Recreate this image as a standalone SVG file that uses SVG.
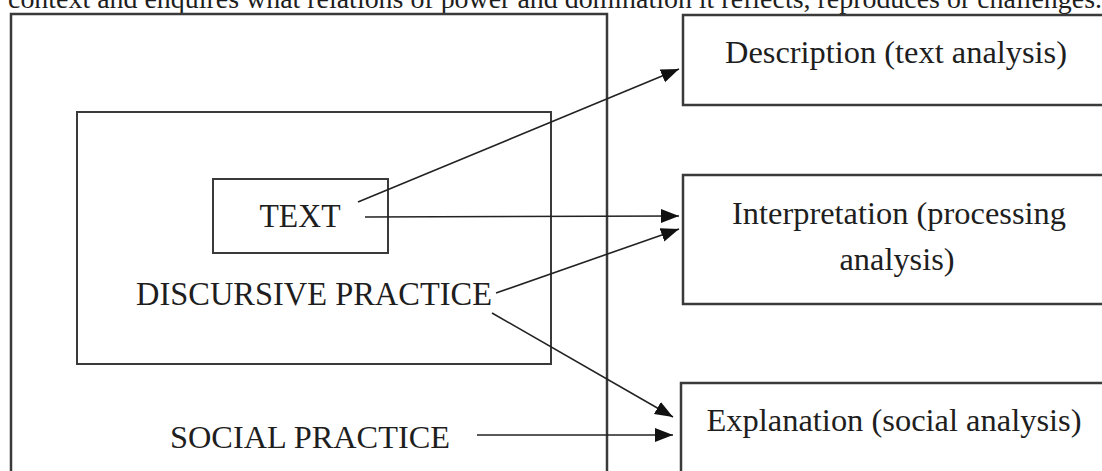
<svg xmlns="http://www.w3.org/2000/svg" width="1102" height="471" viewBox="0 0 1102 471">
<style>
.box{fill:none;stroke:#3a3a3a;stroke-width:2.5}
.ibox{fill:none;stroke:#3a3a3a;stroke-width:2}
.t{font-family:"Liberation Serif","Times New Roman",serif;fill:#1e1e1e;font-size:32px;text-anchor:middle}
.lt{font-family:"Liberation Serif","Times New Roman",serif;fill:#1e1e1e;font-size:34px;text-anchor:middle}
.c{fill:none;stroke:#222;stroke-width:1.6}
</style>
<defs>
<marker id="ah" markerUnits="userSpaceOnUse" markerWidth="20" markerHeight="16" refX="18" refY="7" orient="auto">
<path d="M0,0 L18,7 L0,14 z" fill="#111"/>
</marker>
</defs>
<rect width="1102" height="471" fill="#fff"/>
<text x="8" y="8" font-family="Liberation Serif,Times New Roman,serif" font-size="28" fill="#1e1e1e" textLength="1094" lengthAdjust="spacingAndGlyphs">context and enquires what relations of power and domination it reflects, reproduces or challenges.</text>
<g id="social">
<rect class="box" x="11" y="14" width="596" height="520"/>
<text class="t" x="310" y="448" textLength="280" lengthAdjust="spacingAndGlyphs">SOCIAL PRACTICE</text>
</g>
<g id="discursive">
<rect class="ibox" x="77" y="112" width="474" height="252"/>
<text class="lt" x="314" y="305" textLength="356" lengthAdjust="spacingAndGlyphs">DISCURSIVE PRACTICE</text>
</g>
<g id="text">
<rect class="ibox" x="213" y="179" width="175" height="74"/>
<text class="lt" x="300" y="227" textLength="81" lengthAdjust="spacingAndGlyphs">TEXT</text>
</g>
<g id="description">
<rect class="box" x="683" y="15" width="440" height="90"/>
<text class="t" x="896" y="63" textLength="342" lengthAdjust="spacingAndGlyphs">Description (text analysis)</text>
</g>
<g id="interpretation">
<rect class="box" x="683" y="175" width="440" height="129"/>
<text class="t" x="899" y="224" textLength="334" lengthAdjust="spacingAndGlyphs">Interpretation (processing</text>
<text class="t" x="897" y="270" textLength="115" lengthAdjust="spacingAndGlyphs">analysis)</text>
</g>
<g id="explanation">
<rect class="box" x="681" y="383" width="440" height="200"/>
<text class="t" x="894" y="431" textLength="375" lengthAdjust="spacingAndGlyphs">Explanation (social analysis)</text>
</g>
<g id="connectors">
<line class="c" x1="358" y1="202" x2="679" y2="69" marker-end="url(#ah)"/>
<line class="c" x1="365" y1="217" x2="679" y2="216" marker-end="url(#ah)"/>
<line class="c" x1="496" y1="293" x2="679" y2="229" marker-end="url(#ah)"/>
<line class="c" x1="492" y1="313" x2="673" y2="417" marker-end="url(#ah)"/>
<line class="c" x1="477" y1="435" x2="673" y2="435" marker-end="url(#ah)"/>
</g>
</svg>
